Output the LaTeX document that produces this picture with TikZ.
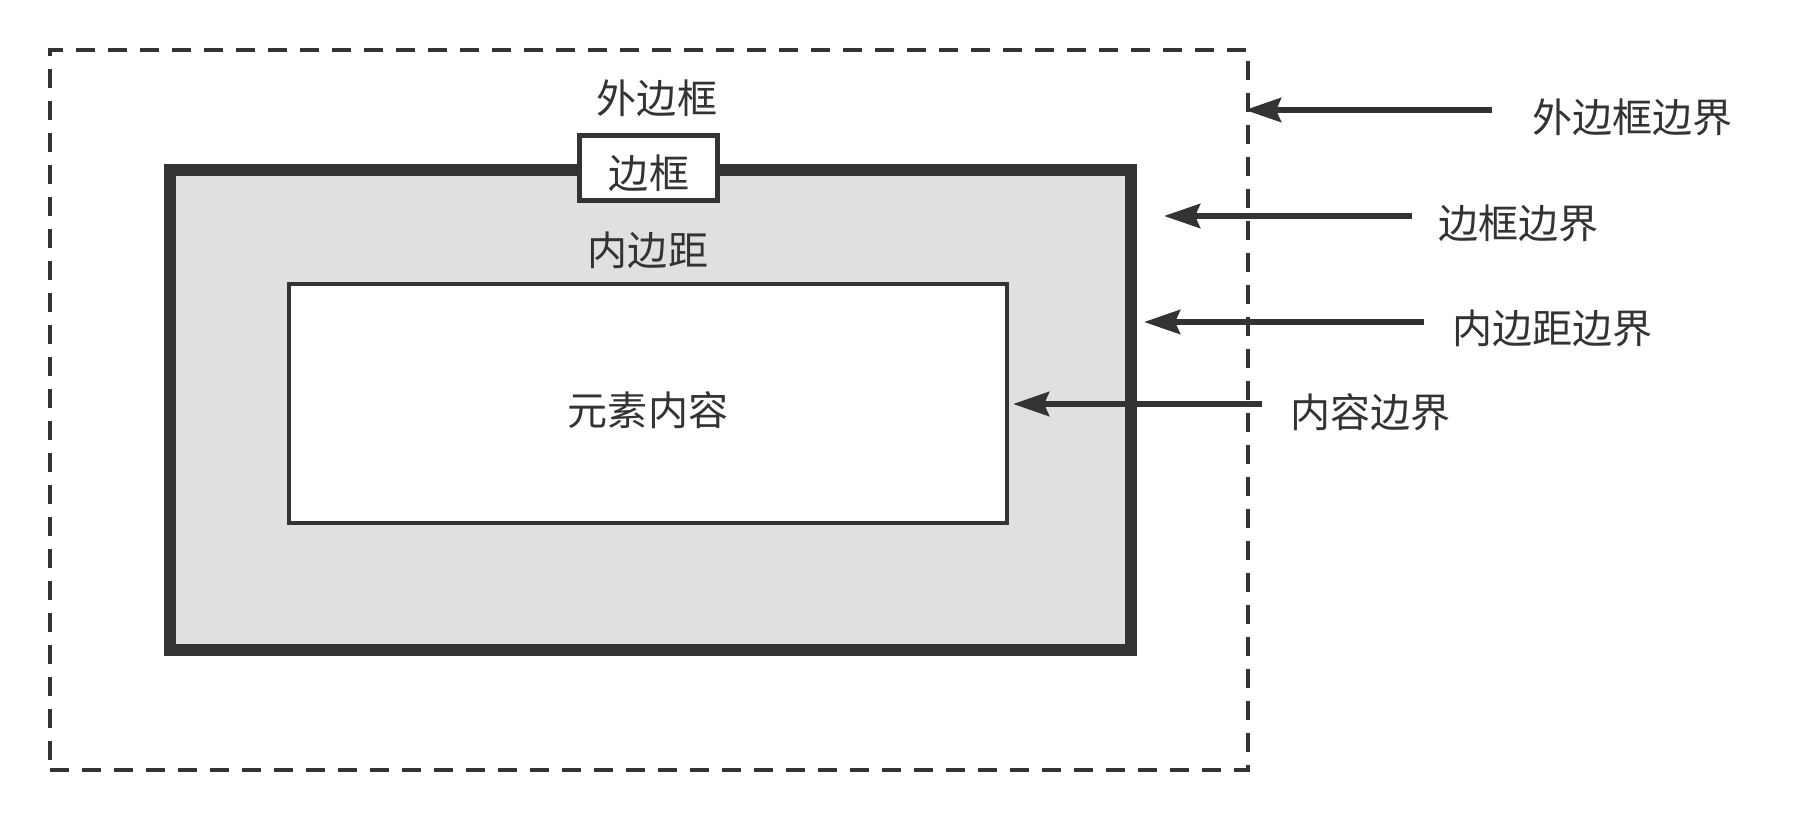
\documentclass[tikz,border=0pt]{standalone}
\usepackage{fontspec}
\usepackage{tikz}
\usetikzlibrary{arrows.meta,positioning,fit,calc}
\newfontfamily\cjk{Noto Sans CJK SC}
\definecolor{bxdark}{HTML}{333333}
\definecolor{bxgray}{HTML}{E0E0E0}

\begin{document}
\begin{tikzpicture}[
  x=0.02cm, y=-0.02cm,
  font=\cjk\fontsize{22.8}{27}\selectfont,
  text=bxdark,
  >={Stealth[length=0.72cm, width=0.48cm, inset=0.1cm]},
  marginbox/.style={draw=bxdark, line width=2.3pt, dash pattern=on 0.38cm off 0.26cm, inner sep=0pt},
  borderbox/.style={draw=bxdark, fill=bxgray, line width=6.8pt, inner sep=0pt},
  contentbox/.style={draw=bxdark, fill=white, line width=2pt, inner sep=0pt},
  tagbox/.style={draw=bxdark, fill=white, line width=2.3pt, inner sep=0pt,
                 minimum width=2.76cm, minimum height=1.3cm},
  lbl/.style={inner sep=0pt},
  side/.style={anchor=west, inner sep=0pt},
  pointer/.style={draw=bxdark, line width=3.4pt, ->},
]
\useasboundingbox (0,0) rectangle (1820,820);

% ---- corners of the three boxes ----
\coordinate (m1) at (50,50);   \coordinate (m2) at (1248,770);
\coordinate (b1) at (170,170); \coordinate (b2) at (1131,650);
\coordinate (c1) at (289,284); \coordinate (c2) at (1007,523);

% ---- boxes ----
\node[marginbox, fit=(m1)(m2)] (margin) {};
\node[borderbox, fit=(b1)(b2)] (border) {};
\node[contentbox, fit=(c1)(c2)] (content) {};
\node[tagbox] (tag) at (648.5,168) {};

% ---- labels inside ----
\node[lbl] (taglbl) at (649,173) {边框};
\node[lbl] (outerlbl) at (657,98) {外边框};
\node[lbl] (padlbl) at (648,250) {内边距};
\node[lbl] (contentlbl) at (648,410) {元素内容};

% ---- labels on the right ----
\node[side] (marginedge) at (1532,117) {外边框边界};
\node[side] (borderedge) at (1438,223) {边框边界};
\node[side] (padedge) at (1452,328) {内边距边界};
\node[side] (contentedge) at (1290,412) {内容边界};

% ---- pointers ----
\coordinate (s1) at (1492,110); \coordinate (t1) at (1245,110);
\coordinate (s2) at (1412,216); \coordinate (t2) at (1164,216);
\coordinate (s3) at (1424,322); \coordinate (t3) at (1144,322);
\coordinate (s4) at (1262,404); \coordinate (t4) at (1013,404);
\foreach \i in {1,2,3,4}{
  \draw[pointer] (s\i) -- (t\i);
}

\end{tikzpicture}
\end{document}
